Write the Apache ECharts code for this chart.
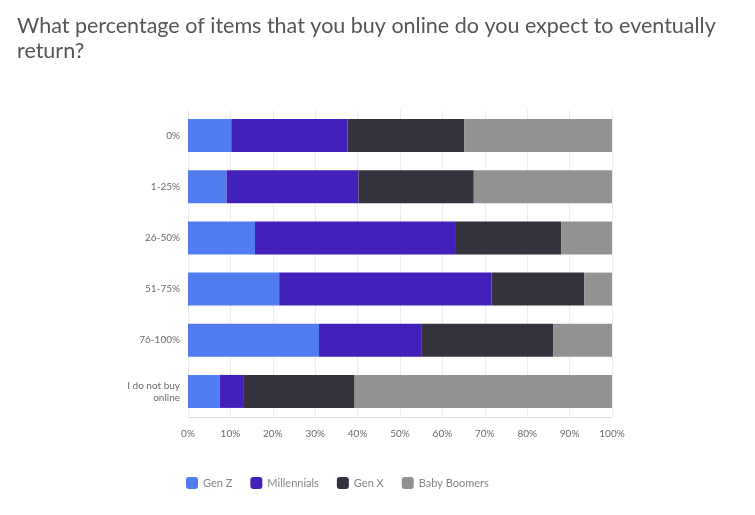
<!DOCTYPE html>
<html>
<head>
<meta charset="utf-8">
<script src="https://cdn.jsdelivr.net/npm/echarts@6/dist/echarts.min.js"></script>
<style>
  html, body { margin: 0; padding: 0; background: #fff; }
  #chart { width: 755px; height: 515px; }
</style>
</head>
<body>
<div id="chart"></div>
<script>
  // answer categories, top to bottom
  var categories = ['0%', '1-25%', '26-50%', '51-75%', '76-100%', 'I do not buy\nonline'];
  var genZ        = [10.2,  9.1, 15.8, 21.5, 30.9,  7.5];
  var millennials = [27.4, 31.1, 47.4, 50.1, 24.1,  5.5];
  var genX        = [27.6, 27.2, 24.8, 21.9, 31.1, 26.3];
  var boomers     = [34.8, 32.6, 12.0,  6.5, 13.9, 60.7];
  var seriesNames = ['Gen Z', 'Millennials', 'Gen X', 'Baby Boomers'];
  var colors = ['#507cf0', '#4320b9', '#34323d', '#919393'];

  var chart = echarts.init(document.getElementById('chart'));

  function bar(name, data, color) {
    return {
      name: name,
      type: 'bar',
      stack: 'total',
      barWidth: 33,
      itemStyle: { color: color },
      data: data
    };
  }

  var option = {
    animation: false,
    title: {
      text: 'What percentage of items that you buy online do you expect to eventually\nreturn?',
      left: 12,
      top: 9,
      textStyle: {
        fontFamily: 'Lato',
        fontWeight: 'normal',
        fontSize: 21.5,
        lineHeight: 25,
        color: '#555555'
      }
    },
    legend: {
      data: seriesNames,
      left: 181,
      top: 472,
      icon: 'roundRect',
      itemWidth: 12,
      itemHeight: 12,
      itemGap: 18,
      textStyle: { color: '#858585', fontSize: 11, fontFamily: 'Lato' }
    },
    grid: { left: 188, right: 143, top: 110, bottom: 98 },
    xAxis: {
      type: 'value',
      min: 0,
      max: 100,
      interval: 10,
      axisLine: { show: true, lineStyle: { color: '#dddddd' } },
      axisTick: { show: false },
      splitLine: { show: true, lineStyle: { color: '#ececec' } },
      axisLabel: {
        formatter: '{value}%',
        color: '#6b6b6b',
        fontSize: 10,
        fontFamily: 'Lato',
        margin: 12
      }
    },
    yAxis: {
      type: 'category',
      inverse: true,
      data: categories,
      axisLine: { show: false },
      axisTick: { show: false },
      axisLabel: {
        color: '#6b6b6b',
        fontSize: 10,
        fontFamily: 'Lato',
        lineHeight: 12,
        margin: 8
      }
    },
    series: [
      bar(seriesNames[0], genZ, colors[0]),
      bar(seriesNames[1], millennials, colors[1]),
      bar(seriesNames[2], genX, colors[2]),
      bar(seriesNames[3], boomers, colors[3])
    ]
  };

  chart.setOption(option);
</script>
</body>
</html>
